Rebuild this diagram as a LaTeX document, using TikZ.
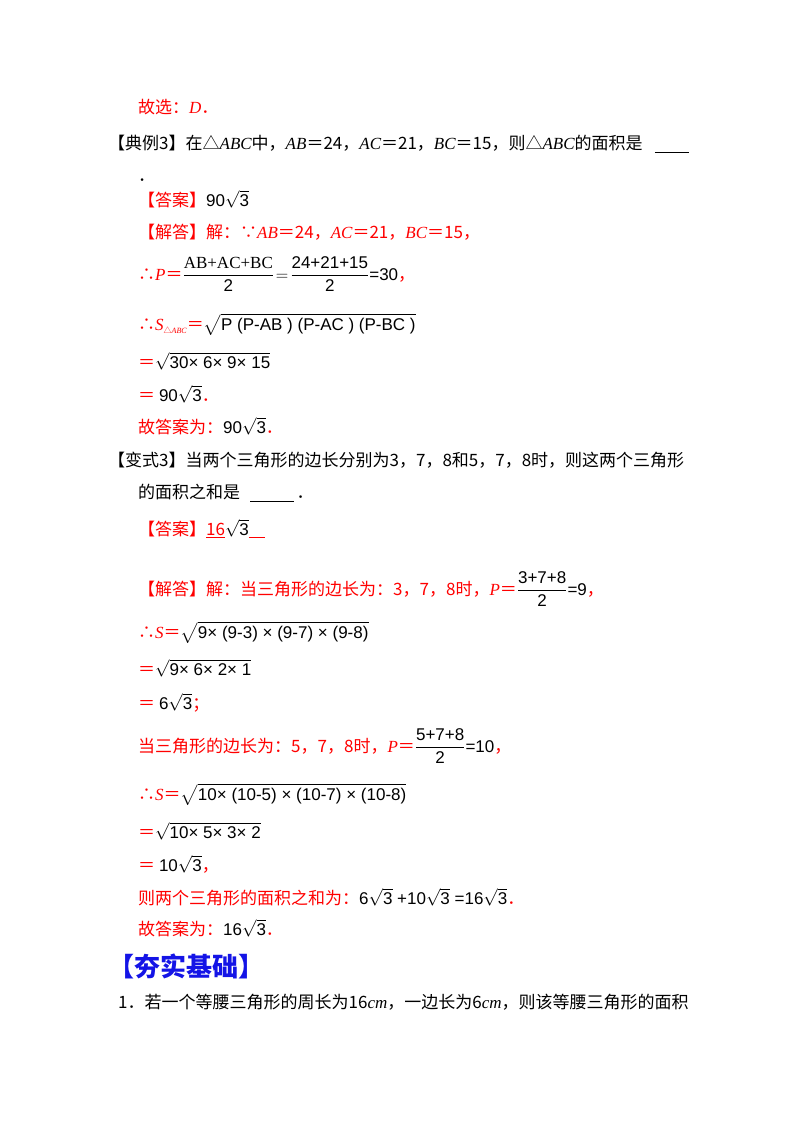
\documentclass[tikz,border=0pt]{standalone}
\usepackage{amsmath}
\usepackage{fontspec}
\setmainfont{Noto Sans CJK SC}
\newfontfamily\lat{Liberation Serif}
\newfontfamily\las{Liberation Sans}
\newcommand{\itl}[1]{{\lat\itshape #1}}
\newcommand{\fm}[1]{{\color{black}\las #1}}
\newcommand{\rt}[1]{\ensuremath{\sqrt{\mbox{\las #1}}}}
\newcommand{\two}{\mbox{\las 2}}
\begin{document}
\begin{tikzpicture}[x=1pt,y=-1pt,
  t/.style={anchor=base west,inner sep=0,font=\fontsize{17}{20}\selectfont},
  r/.style={t,text=red}]
\useasboundingbox (0,0) rectangle (800,1132);
\node[r] (a1) at (138,113) {故选：\itl{D}．};
\node[t] (a2) at (108,149) {【典例3】在△\itl{ABC}中，\itl{AB}＝24，\itl{AC}＝21，\itl{BC}＝15，则△\itl{ABC}的面积是};
\draw (a2.base east) ++(12,3) coordinate (u1) -- ++(34,0) coordinate (u2);
\node[t] (a3) at (138,181) {．};
\node[r] (a4) at (138,206) {【答案】\fm{90\rt{3}}};
\node[r] (a5) at (138,238) {【解答】解：∵\itl{AB}＝24，\itl{AC}＝21，\itl{BC}＝15，};
\node[r] (a6) at (138,280) {∴\itl{P}＝\fm{$\dfrac{\mbox{\lat AB+AC+BC}}{\two}\!=\!\dfrac{\mbox{\las 24+21+15}}{\two}$=30}，};
\node[r] (a7) at (138,330) {∴\itl{S}\raisebox{-3pt}{\footnotesize △\itl{ABC}}＝\fm{\rt{P (P-AB ) (P-AC ) (P-BC )}}};
\node[r] (a8) at (138,368) {＝\fm{\rt{30× 6× 9× 15}}};
\node[r] (a9) at (138,401) {＝ \fm{90\rt{3}}．};
\node[r] (a10) at (138,433) {故答案为：\fm{90\rt{3}}．};
\node[t] (b1) at (108,466) {【变式3】当两个三角形的边长分别为3，7，8和5，7，8时，则这两个三角形};
\node[t] (b2) at (138,498) {的面积之和是};
\draw (b2.base east) ++(10,3) coordinate (u3) -- ++(44,0) coordinate (u4);
\node[t] (b2d) at (b2.base east) [xshift=56pt] {．};
\node[r] (b3) at (138,535) {【答案】\underline{16}\fm{\rt{3}}\underline{\hspace{16pt}}};
\node[r] (b4) at (138,595) {【解答】解：当三角形的边长为：3，7，8时，\itl{P}＝\fm{$\dfrac{\mbox{\las 3+7+8}}{\two}$=9}，};
\node[r] (b5) at (138,638) {∴\itl{S}＝\fm{\rt{9× (9-3) × (9-7) × (9-8)}}};
\node[r] (b6) at (138,675) {＝\fm{\rt{9× 6× 2× 1}}};
\node[r] (b7) at (138,709) {＝ \fm{6\rt{3}}；};
\node[r] (b8) at (138,752) {当三角形的边长为：5，7，8时，\itl{P}＝\fm{$\dfrac{\mbox{\las 5+7+8}}{\two}$=10}，};
\node[r] (b9) at (138,800) {∴\itl{S}＝\fm{\rt{10× (10-5) × (10-7) × (10-8)}}};
\node[r] (b10) at (138,838) {＝\fm{\rt{10× 5× 3× 2}}};
\node[r] (b11) at (138,871) {＝ \fm{10\rt{3}}，};
\node[r] (b12) at (138,904) {则两个三角形的面积之和为：\fm{6\rt{3} +10\rt{3} =16\rt{3}}．};
\node[r] (b13) at (138,935) {故答案为：\fm{16\rt{3}}．};
\node[anchor=base west,inner sep=0,text={rgb,255:red,20;green,20;blue,230},font=\fontsize{26}{28}\selectfont\bfseries] (h) at (108,976) {【夯实基础】};
\node[t] (q1) at (118,1008) {1．若一个等腰三角形的周长为16\itl{cm}，一边长为6\itl{cm}，则该等腰三角形的面积};
\end{tikzpicture}
\end{document}
